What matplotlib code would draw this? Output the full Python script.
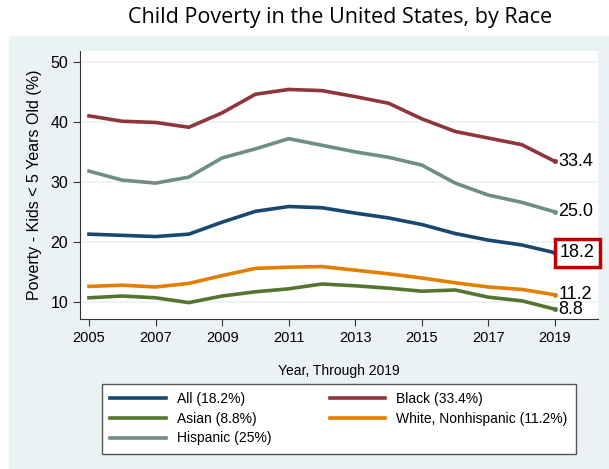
import matplotlib.pyplot as plt
from matplotlib.patches import Rectangle

years = list(range(2005, 2020))
all_kids = [21.3, 21.1, 20.9, 21.3, 23.3, 25.1, 25.9, 25.7, 24.8, 24.0, 22.9, 21.4, 20.3, 19.5, 18.2]
black = [41.0, 40.1, 39.9, 39.1, 41.5, 44.6, 45.4, 45.2, 44.2, 43.1, 40.5, 38.4, 37.3, 36.2, 33.4]
asian = [10.7, 11.0, 10.7, 9.9, 11.0, 11.7, 12.2, 13.0, 12.7, 12.3, 11.8, 12.0, 10.8, 10.2, 8.8]
white = [12.6, 12.8, 12.5, 13.1, 14.4, 15.6, 15.8, 15.9, 15.3, 14.7, 14.0, 13.2, 12.5, 12.1, 11.2]
hispanic = [31.8, 30.3, 29.8, 30.8, 34.0, 35.5, 37.2, 36.1, 35.0, 34.1, 32.8, 29.8, 27.8, 26.6, 25.0]

W, H = 609, 469
fig = plt.figure(figsize=(W / 100, H / 100), dpi=100)
plt.rcParams['font.family'] = ['Liberation Sans', 'DejaVu Sans']

# Stata-like graph region
bg = Rectangle((9 / W, 0), 1, (H - 36) / H, transform=fig.transFigure,
               color='#EAF2F3', zorder=-10)
fig.add_artist(bg)

ax = fig.add_axes([80 / W, 1 - 319 / H, (598 - 80) / W, (319 - 51) / H])
ax.set_facecolor('white')

c_all, c_black, c_asian = '#1A476F', '#90353B', '#55752F'
c_white, c_hisp = '#E37E00', '#6E8E84'

lw = 2.6
l_all, = ax.plot(years, all_kids, color=c_all, lw=lw, label='All (18.2%)')
l_black, = ax.plot(years, black, color=c_black, lw=lw, label='Black (33.4%)')
l_asian, = ax.plot(years, asian, color=c_asian, lw=lw, label='Asian (8.8%)')
l_white, = ax.plot(years, white, color=c_white, lw=lw, label='White, Nonhispanic (11.2%)')
l_hisp, = ax.plot(years, hispanic, color=c_hisp, lw=lw, label='Hispanic (25%)')

# end labels
for series, c in [(black, c_black), (hispanic, c_hisp), (white, c_white), (asian, c_asian)]:
    ax.plot(years[-1], series[-1], 'o', color=c, ms=2.5)
    ax.text(years[-1] + 0.1, series[-1], f'{series[-1]:.1f}', fontsize=13, va='center', ha='left')
ax.plot(years[-1], all_kids[-1], 'o', color=c_all, ms=2.5)
ax.text(years[-1] + 0.15, all_kids[-1], f'{all_kids[-1]:.1f}', fontsize=13, va='center', ha='left',
        bbox=dict(boxstyle='square,pad=0.3', fc='white', ec='#C00000', lw=2.5))

ax.set_xlim(2004.73, 2020.29)
ax.set_ylim(7.17, 51.8)
ax.set_xticks(range(2005, 2020, 2))
ax.set_yticks([10, 20, 30, 40, 50])
ax.tick_params(axis='x', labelsize=10.5, length=5, color='#333333')
ax.tick_params(axis='y', labelsize=11.5, length=5, color='#333333')
ax.grid(axis='y', color='#EAF2F3', lw=1.2)
ax.set_axisbelow(True)
for s in ['top', 'right']:
    ax.spines[s].set_visible(False)
for s in ['left', 'bottom']:
    ax.spines[s].set_color('#333333')

ax.set_ylabel('Poverty - Kids < 5 Years Old (%)', fontsize=11.5, labelpad=6)
ax.set_xlabel('Year, Through 2019', fontsize=10, labelpad=14)

fig.text(340 / W, 1 - 17 / H, 'Child Poverty in the United States, by Race',
         fontsize=15.5, family=['Open Sans', 'DejaVu Sans'], ha='center', va='center')

leg = fig.legend(handles=[l_all, l_asian, l_hisp, l_black, l_white], ncol=2,
                 loc='upper left', bbox_to_anchor=(102 / W, 1 - 384 / H), borderaxespad=0,
                 frameon=True, fancybox=False, fontsize=10, handlelength=4.0,
                 columnspacing=4.2, borderpad=0.6, labelspacing=0.4,
                 edgecolor='#555555', facecolor='white', framealpha=1)
leg.get_frame().set_linewidth(1.0)

fig.savefig('out.png', dpi=100)
